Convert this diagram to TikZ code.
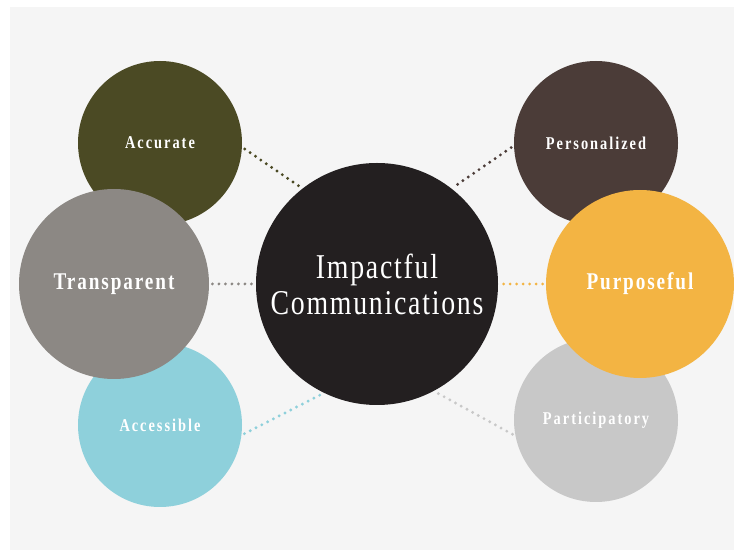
\documentclass[tikz,border=0pt]{standalone}
\usepackage{fontspec}
\setmainfont{Liberation Serif}
\newfontfamily\hubfont[FakeStretch=0.8,LetterSpace=5]{Liberation Serif}
\newfontfamily\bigfont[FakeStretch=0.8,LetterSpace=8]{Liberation Serif}
\newfontfamily\smallfont[FakeStretch=0.8,LetterSpace=11]{Liberation Serif}

\definecolor{paper}{HTML}{F5F5F5}
\definecolor{hubclr}{HTML}{231F20}
\definecolor{accurateclr}{HTML}{4B4A24}
\definecolor{transparentclr}{HTML}{8C8884}
\definecolor{accessibleclr}{HTML}{8ED0DB}
\definecolor{personalizedclr}{HTML}{4B3C38}
\definecolor{purposefulclr}{HTML}{F3B443}
\definecolor{participatoryclr}{HTML}{C8C8C8}

\tikzset{
  x=0.5pt, y=-0.5pt,
  bubble/.style={
    circle,
    inner sep=0pt,
    minimum size=#1,
    text=white,
    align=center,
  },
  small bubble/.style={
    bubble=82pt,
    font=\smallfont\bfseries\fontsize{9}{11}\selectfont,
  },
  big bubble/.style={
    bubble=95pt,
    font=\bigfont\bfseries\fontsize{12}{14}\selectfont,
  },
  link/.style={
    line width=1.6pt,
    line cap=round,
    dash pattern=on 0pt off 3.25pt,
    shorten <=1.5pt,
    shorten >=1.5pt,
  },
}

\begin{document}
\begin{tikzpicture}
  \useasboundingbox (0,0) rectangle (734,550);
  \fill[paper] (10,7) rectangle (734,550);

  % left column
  \node[small bubble, fill=accurateclr] (accurate) at (160,143) {Accurate};
  \node[small bubble, fill=accessibleclr] (accessible) at (160,425) {Accessible};
  \node[big bubble, fill=transparentclr] (transparent) at (114,284) {Transparent};

  % right column
  \node[small bubble, fill=personalizedclr] (personalized) at (596,143) {Personalized};
  \node[small bubble, fill=participatoryclr] (participatory) at (596,420) {Participatory};
  \node[big bubble, fill=purposefulclr, minimum size=94pt] (purposeful) at (640,284) {Purposeful};

  % centre
  \node[bubble=121pt, fill=hubclr,
        font=\hubfont\fontsize{17.4}{18}\selectfont] (hub) at (377,284)
    {Impactful\\Communications};

  % dotted spokes
  \draw[link, accurateclr] (accurate.-3) -- (hub.128);
  \draw[link, transparentclr] (transparent.east) -- (hub.west);
  \draw[link, accessibleclr] (accessible.-7) -- (hub.244);
  \draw[link, personalizedclr] (personalized.182) -- (hub.52);
  \draw[link, purposefulclr] (purposeful.west) -- (hub.east);
  \draw[link, participatoryclr] (participatory.191) -- (hub.298);
\end{tikzpicture}
\end{document}
